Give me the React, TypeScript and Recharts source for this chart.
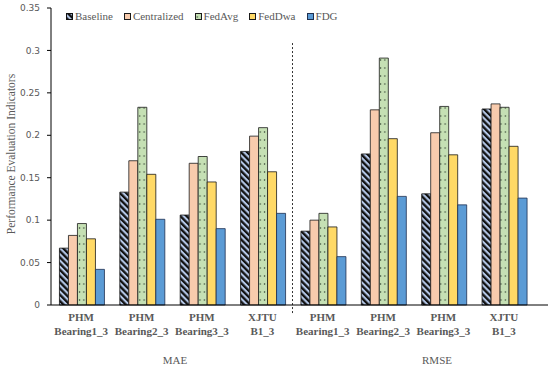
import React from "react";
import { BarChart, Bar, XAxis, YAxis, ReferenceLine } from "recharts";

// metric groups and datasets along the x axis
const groups = ["MAE", "RMSE"];
const tickTop = ["PHM", "PHM", "PHM", "XJTU"];
const tickBottom = ["Bearing1_3", "Bearing2_3", "Bearing3_3", "B1_3"];
const yTicks = [0, 0.05, 0.1, 0.15, 0.2, 0.25, 0.3, 0.35];

// values per method: MAE x4 then RMSE x4
const baseline = [0.067, 0.133, 0.106, 0.181, 0.087, 0.178, 0.131, 0.231];
const centralized = [0.082, 0.17, 0.167, 0.199, 0.1, 0.23, 0.203, 0.237];
const fedAvg = [0.096, 0.233, 0.175, 0.209, 0.108, 0.291, 0.234, 0.233];
const fedDwa = [0.078, 0.154, 0.145, 0.157, 0.092, 0.196, 0.177, 0.187];
const fdg = [0.042, 0.101, 0.09, 0.108, 0.057, 0.128, 0.118, 0.126];

const SERIES = [
  { key: "Baseline", values: baseline, fill: "url(#pBase)", stroke: "#111" },
  { key: "Centralized", values: centralized, fill: "#f8cbad", stroke: "#1a1a1a" },
  { key: "FedAvg", values: fedAvg, fill: "url(#pDots)", stroke: "#1a1a1a" },
  { key: "FedDwa", values: fedDwa, fill: "#ffd966", stroke: "#1a1a1a" },
  { key: "FDG", values: fdg, fill: "#5b9bd5", stroke: "#1f3050" },
];

const data = groups.flatMap((g, gi) =>
  tickTop.map((_, i) => {
    const row: Record<string, string | number> = { key: `${g}-${i}` };
    SERIES.forEach((s) => (row[s.key] = s.values[gi * 4 + i]));
    return row;
  })
);

const SERIF = "'Liberation Serif', 'Times New Roman', serif";
const GREY = "#595959";

function CategoryTick({ x, y, payload }: any) {
  const i = Number(String(payload.value).split("-")[1]);
  return (
    <text x={x} y={y} textAnchor="middle" fontFamily={SERIF} fontWeight="bold" fontSize={11} fill={GREY}>
      <tspan x={x} dy={16}>{tickTop[i]}</tspan>
      <tspan x={x} dy={14}>{tickBottom[i]}</tspan>
    </text>
  );
}

function Swatch({ fill, stroke }: { fill: string; stroke: string }) {
  return (
    <svg width={7} height={7} style={{ display: "block" }}>
      <rect x={0.5} y={0.5} width={6} height={6} fill={fill} stroke={stroke} strokeWidth={1} />
    </svg>
  );
}

export default function App() {
  return (
    <div style={{ position: "relative", width: 550, height: 367, background: "#fff" }}>
      <style>{`body{margin:0}`}</style>
      <BarChart
        width={550}
        height={367}
        data={data}
        margin={{ top: 8, right: 2, bottom: 0, left: 0 }}
        barGap={0}
        barCategoryGap="14%"
      >
        <defs>
          <pattern id="pBase" patternUnits="userSpaceOnUse" width="4.4" height="4.4" patternTransform="rotate(-45)">
            <rect width="4.4" height="4.4" fill="#b4c7e7" />
            <rect width="2.3" height="4.4" fill="#111" />
          </pattern>
          <pattern id="pDots" patternUnits="userSpaceOnUse" width="4.3" height="8">
            <rect width="4.3" height="8" fill="#c5e0b4" />
            <circle cx="2.2" cy="4" r="0.7" fill="#2b3a2b" />
          </pattern>
        </defs>
        <XAxis
          dataKey="key"
          interval={0}
          tick={<CategoryTick />}
          tickLine={false}
          tickSize={0}
          tickMargin={0}
          axisLine={{ stroke: "#000" }}
          padding={{ left: 0, right: 14 }}
          height={62}
        />
        <YAxis
          domain={[0, 0.35]}
          ticks={yTicks}
          width={51}
          tickSize={4}
          tickMargin={7}
          axisLine={{ stroke: "#000" }}
          tickLine={{ stroke: "#000" }}
          tick={{ fontSize: 9, fill: GREY, fontFamily: "'DejaVu Sans', Verdana, sans-serif" }}
          tickFormatter={(v) => String(v)}
        />
        {SERIES.map((s) => (
          <Bar
            key={s.key}
            dataKey={s.key}
            fill={s.fill}
            stroke={s.stroke}
            strokeWidth={0.8}
            isAnimationActive={false}
          />
        ))}
        <ReferenceLine
          segment={[
            { x: "RMSE-0", y: -0.0095 },
            { x: "RMSE-0", y: 0.31 },
          ]}
          position="start"
          ifOverflow="visible"
          stroke="#333"
          strokeDasharray="2 2"
          strokeWidth={1}
        />
        <text x={175} y={364} textAnchor="middle" fontFamily={SERIF} fontSize={11} fill={GREY}>MAE</text>
        <text x={437} y={364} textAnchor="middle" fontFamily={SERIF} fontSize={11} fill={GREY}>RMSE</text>
        <text
          x={11}
          y={154}
          transform="rotate(-90 11 154)"
          textAnchor="middle"
          dominantBaseline="central"
          fontFamily={SERIF}
          fontSize={11.5}
          fill={GREY}
        >
          Performance Evaluation Indicators
        </text>
      </BarChart>
      <div
        style={{
          position: "absolute",
          top: 9,
          left: 66,
          display: "flex",
          alignItems: "center",
          fontFamily: SERIF,
          fontSize: 11,
          color: GREY,
          lineHeight: "14px",
        }}
      >
        {SERIES.map((s) => (
          <div key={s.key} style={{ display: "flex", alignItems: "center", marginRight: 11 }}>
            <Swatch fill={s.fill} stroke={s.stroke} />
            <span style={{ marginLeft: 2 }}>{s.key}</span>
          </div>
        ))}
      </div>
    </div>
  );
}
